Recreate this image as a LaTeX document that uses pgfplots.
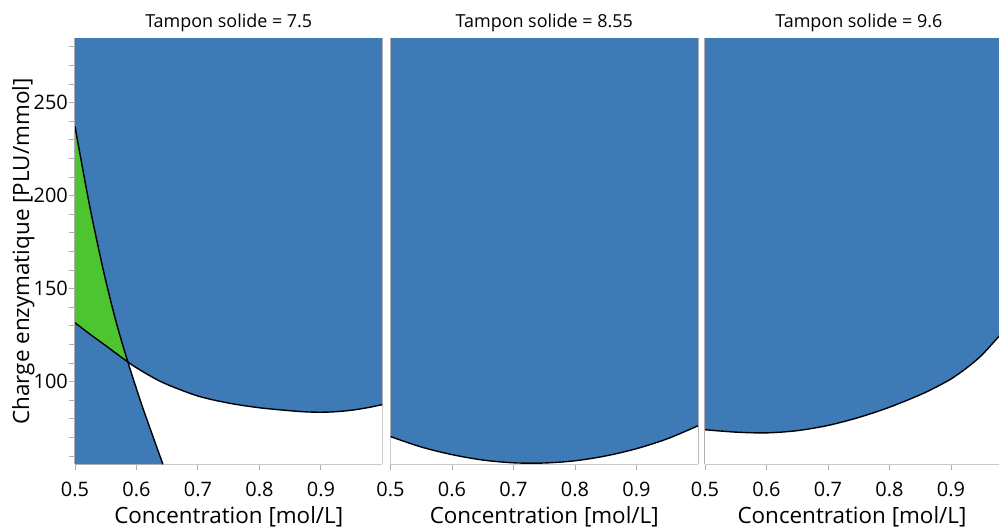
\documentclass[border=0pt]{standalone}
\usepackage{pgfplots}
\pgfplotsset{compat=1.18}
\usepackage{fontspec}
\setmainfont{Open Sans}
\definecolor{cblue}{RGB}{61,122,182}
\definecolor{cgreen}{RGB}{77,197,48}
\definecolor{axgray}{RGB}{175,175,175}
\definecolor{gridgray}{RGB}{228,228,228}
\pgfplotsset{
  panel/.style={
    scale only axis, height=426.6bp,
    xmin=0.5, ymin=55.6, ymax=285,
    xtick={0.5,0.6,0.7,0.8,0.9},
    axis x line*=bottom,
    grid=major, major grid style={gridgray, line width=0.8bp},
    axis line style={axgray, line width=1.3bp},
    tick style={axgray, line width=1bp},
    tick align=outside, major tick length=6bp, minor tick length=6bp,
    xtick pos=lower,
    /pgf/number format/assume math mode=true,
    xticklabel style={font=\fontsize{20}{24}\selectfont, anchor=base, yshift=-26.5bp},
    yticklabel style={font=\fontsize{20}{24}\selectfont, anchor=east, inner sep=1bp},
    title style={font=\fontsize{18}{22}\selectfont, anchor=base, yshift=4bp},
    xlabel={Concentration [mol/L]},
    xlabel style={font=\fontsize{22.5}{27}\selectfont, at={(axis description cs:0.5,-0.1376)}, anchor=base},
  },
  blank y/.style={ytick=\empty, minor ytick=\empty, ymajorgrids=true},
}
\pgfplotstableread{
x y
0.500 237.3
0.523 195.9
0.546 160.1
0.566 133.2
0.586 110.6
0.610 86.2
0.643 55.6
}\curveA
\pgfplotstableread{
x y
0.500 131.7
0.525 125.4
0.550 119.4
0.586 110.6
0.600 107.5
0.625 102.6
0.650 98.5
0.700 92.3
0.750 88.5
0.800 86.0
0.850 84.4
0.875 83.8
0.900 83.6
0.925 83.9
0.950 84.7
0.975 86.0
1.000 87.7
}\curveB
\pgfplotstableread{
x y
0.50 70.5
0.55 64.9
0.60 60.8
0.65 57.9
0.70 56.4
0.75 56.3
0.80 57.5
0.85 60.1
0.90 64.0
0.95 69.3
1.00 76.3
}\curveC
\pgfplotstableread{
x y
0.500 74.2
0.550 72.9
0.600 72.5
0.650 73.7
0.700 76.5
0.750 80.8
0.800 86.3
0.850 93.0
0.875 97.0
0.900 101.5
0.925 107.3
0.950 114.3
0.978 124.5
}\curveD
\begin{document}
\begin{tikzpicture}
% ---------- panel 1 ----------
\begin{axis}[panel, at={(75bp,66.7bp)}, anchor=south west,
  width=307.5bp, xmax=1,
  title={Tampon solide = 7.5},
  ytick={100,150,200,250}, minor ytick={60,70,...,280}, ytick pos=left,
  ylabel={Charge enzymatique [PLU/mmol]},
  ylabel style={font=\fontsize{22.5}{27}\selectfont, at={(axis description cs:-0.168,0.499)}, anchor=center},
]
\addplot[fill=cblue, draw=none] coordinates {(0.5,55.6) (1,55.6) (1,285) (0.5,285)} -- cycle;
\addplot[fill=cgreen, draw=none] coordinates {(0.5,237.3) (0.523,195.9) (0.546,160.1) (0.566,133.2) (0.586,110.6) (0.55,119.4) (0.525,125.4) (0.5,131.7)} -- cycle;
\addplot[fill=white, draw=none] coordinates {(0.586,110.6) (0.61,86.2) (0.643,55.6) (1,55.6) (1,87.7) (0.975,86.0) (0.95,84.7) (0.925,83.9) (0.9,83.6) (0.875,83.8) (0.85,84.4) (0.8,86.0) (0.75,88.5) (0.7,92.3) (0.65,98.5) (0.625,102.6) (0.6,107.5)} -- cycle;
\addplot[black, line width=1.4bp, smooth] table {\curveA};
\addplot[black, line width=1.4bp, smooth] table {\curveB};
\end{axis}
% ---------- panel 2 ----------
\begin{axis}[panel, blank y, at={(390.5bp,66.7bp)}, anchor=south west,
  width=307.5bp, xmax=1,
  title={Tampon solide = 8.55},
]
\addplot[fill=cblue, draw=none] coordinates {(0.5,55.6) (1,55.6) (1,285) (0.5,285)} -- cycle;
\addplot[fill=white, draw=none] coordinates {(0.5,55.6) (0.5,70.5) (0.55,64.9) (0.6,60.8) (0.65,57.9) (0.7,56.4) (0.75,56.3) (0.8,57.5) (0.85,60.1) (0.9,64.0) (0.95,69.3) (1.0,76.3) (1.0,55.6)} -- cycle;
\addplot[black, line width=1.4bp, smooth] table {\curveC};
\end{axis}
% ---------- panel 3 ----------
\begin{axis}[panel, blank y, at={(705bp,66.7bp)}, anchor=south west,
  width=294bp, xmax=0.978, axis y line*=left,
  title={Tampon solide = 9.6},
  title style={at={(axis description cs:0.5231,1)}},
]
\addplot[fill=cblue, draw=none] coordinates {(0.5,55.6) (0.978,55.6) (0.978,285) (0.5,285)} -- cycle;
\addplot[fill=white, draw=none] coordinates {(0.5,55.6) (0.5,74.2) (0.55,72.9) (0.6,72.5) (0.65,73.7) (0.7,76.5) (0.75,80.8) (0.8,86.3) (0.85,93.0) (0.875,97.0) (0.9,101.5) (0.925,107.3) (0.95,114.3) (0.978,124.5) (0.978,55.6)} -- cycle;
\addplot[black, line width=1.4bp, smooth] table {\curveD};
\end{axis}
\pgfresetboundingbox
\useasboundingbox (0,0) rectangle (999bp,531bp);
\end{tikzpicture}
\end{document}
